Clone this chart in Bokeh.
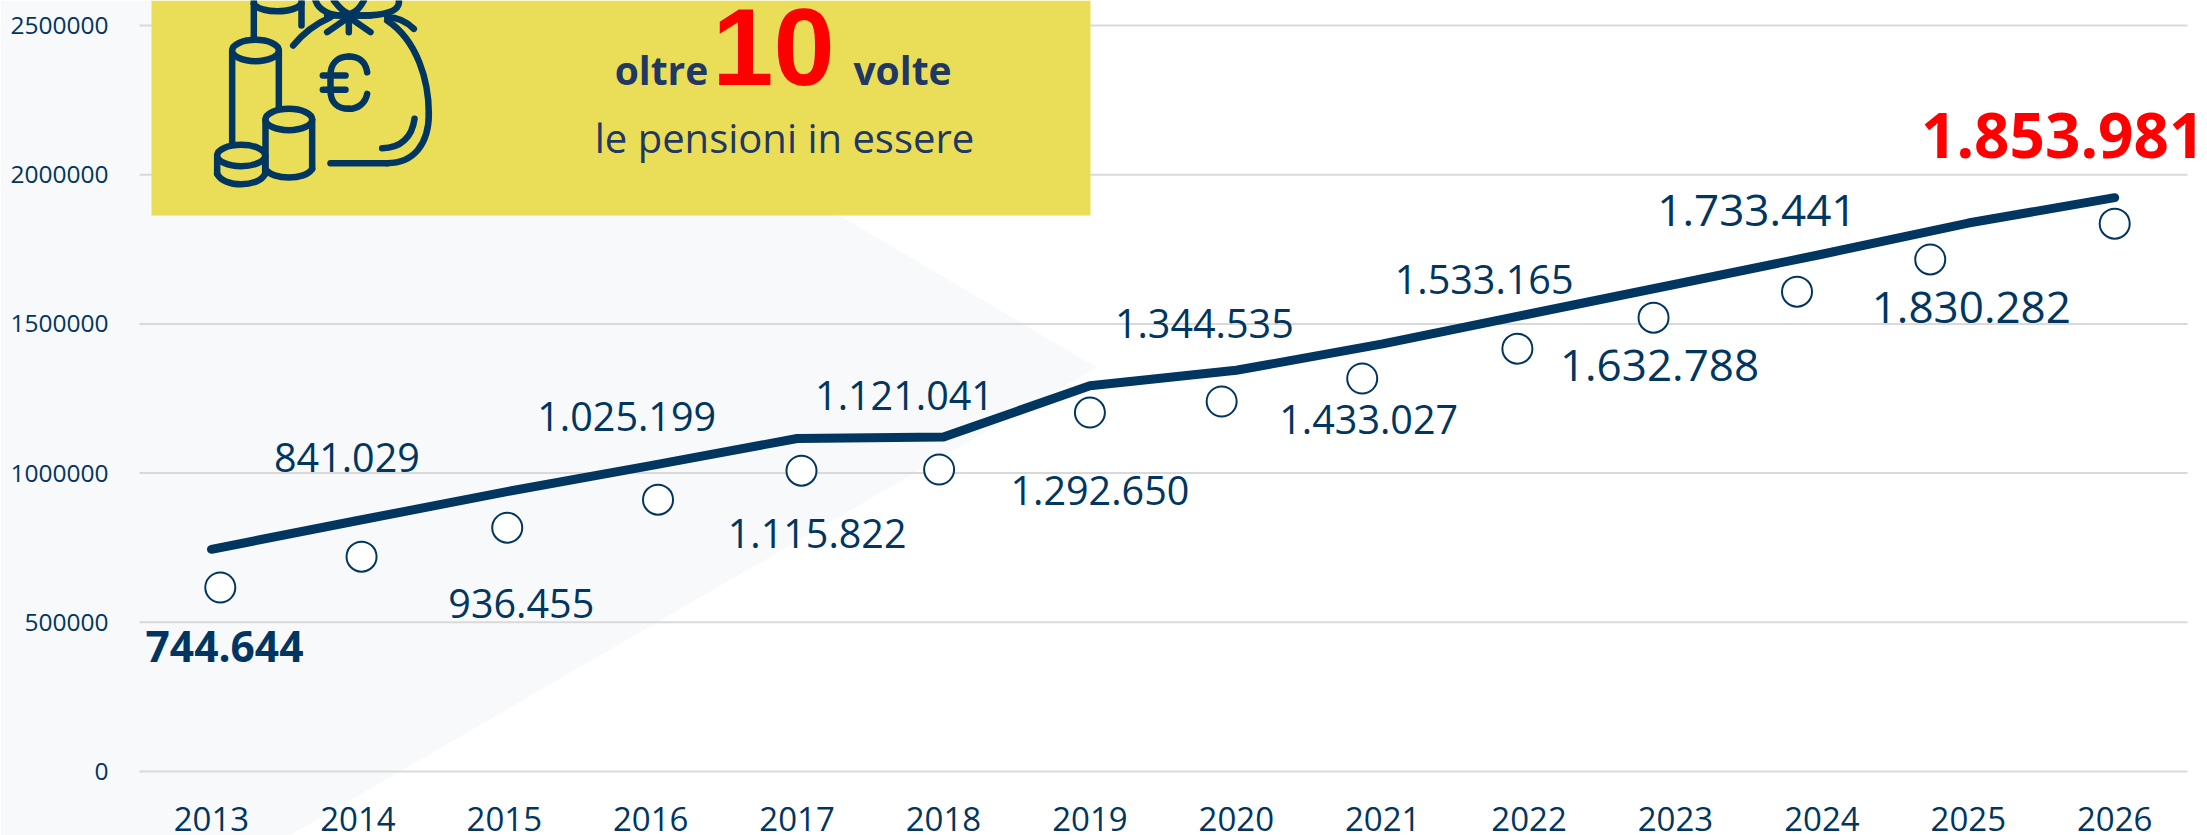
from bokeh.embed import file_html
from bokeh.resources import INLINE
from bokeh.plotting import figure
from bokeh.models import Range1d, LinearAxis, FixedTicker, ColumnDataSource
from bokeh.core.properties import value

# ---- data
years = list(range(2013, 2027))
line_values = [744644, 841029, 936455, 1025199, 1115822, 1121041, 1292650,
               1344535, 1433027, 1533165, 1632788, 1733441, 1838000, 1923000]
label_values = [744644, 841029, 936455, 1025199, 1115822, 1121041, 1292650,
                1344535, 1433027, 1533165, 1632788, 1733441, 1830282, 1853981]
marker_years = [2013.06, 2014.025, 2015.02, 2016.05, 2017.03, 2017.97, 2019.0,
                2019.9, 2020.86, 2021.92, 2022.85, 2023.83, 2024.74, 2026.0]
marker_values = [616600, 720000, 817000, 911000, 1008000, 1012000, 1203000,
                 1240000, 1317000, 1417000, 1521000, 1608000, 1716000, 1836000]
y_ticks = [0, 500000, 1000000, 1500000, 2000000, 2500000]

# ---- layout
W, H = 2207, 835
X0, DX = 211.0, 146.4      # page px of 2013, px per year
Y0, DY = 771.0, 149.2 / 500000
def yr(px): return 2013 + (px - X0) / DX
def val(py): return (Y0 - py) / DY

NAVY = "#003660"
INK = "#1f3864"
YEL = "#eade58"
FONT = "Open Sans"

p = figure(width=W, height=H, output_backend="svg", toolbar_location=None,
           x_range=Range1d(yr(0), yr(W)), y_range=Range1d(val(H), val(0)),
           x_axis_location=None, y_axis_location=None, min_border=0,
           outline_line_color=None, background_fill_color="white", border_fill_color="white")
p.grid.visible = False
p.extra_x_ranges["page"] = Range1d(0, W)
p.extra_y_ranges["page"] = Range1d(H, 0)
pg = dict(x_range_name="page", y_range_name="page")

# pale background shape
p.patch([0, 476, 1096, 289, 0], [0, 0, 367, 835, 835], fill_color="#f7f9fb", line_color=None, **pg)

# gridlines
p.segment(x0=[yr(139)] * len(y_ticks), x1=[yr(2187)] * len(y_ticks), y0=y_ticks, y1=y_ticks,
          line_color="#d9d9d9", line_width=2)

# yellow box
p.quad(left=[151], right=[1090], top=[0], bottom=[215], fill_color=YEL, line_color=None, **pg)

# icon: units are a 3x zoom of the region starting at page (190, 0)
def ix(v): return 190 + v / 3
def iy(v): return v / 3
ICON_W = 6.5
def stroke(xs, ys):
    p.line([ix(v) for v in xs], [iy(v) for v in ys], line_color=NAVY, line_width=ICON_W,
           line_cap="round", line_join="round", **pg)
def curve(a, c0, c1, b):
    p.bezier(x0=[ix(a[0])], y0=[iy(a[1])], x1=[ix(b[0])], y1=[iy(b[1])],
             cx0=[ix(c0[0])], cy0=[iy(c0[1])], cx1=[ix(c1[0])], cy1=[iy(c1[1])],
             line_color=NAVY, line_width=ICON_W, line_cap="round", **pg)
def ell(cx, cy, rx, ry):
    p.ellipse(x=[ix(cx)], y=[iy(cy)], width=[2 * rx / 3], height=[2 * ry / 3], fill_color=YEL,
              line_color=NAVY, line_width=ICON_W, **pg)

# rear coin
stroke([190, 190], [0, 115]); stroke([333, 333], [0, 75])
curve((190, 10), (210, 40), (310, 40), (333, 10))
# tall coin
stroke([125, 125], [150, 430]); stroke([265, 265], [150, 330])
ell(195, 150, 70, 32)
# bag
curve((308, 135), (340, 95), (375, 70), (420, 50))
curve((590, 60), (680, 120), (715, 240), (715, 340))
curve((715, 340), (715, 430), (670, 488), (590, 488))
stroke([590, 420], [488, 488])
curve((672, 355), (665, 410), (630, 443), (575, 443))
# neck
stroke([475, 475], [45, 95]); stroke([475, 410], [50, 95]); stroke([475, 540], [50, 95])
stroke([410, 540], [45, 45])
curve((375, 0), (385, 30), (420, 48), (470, 45))
curve((430, 0), (445, 20), (460, 35), (475, 40))
curve((520, 0), (510, 20), (495, 35), (480, 40))
curve((625, 0), (630, 30), (590, 48), (490, 45))
curve((590, 50), (620, 50), (650, 65), (670, 85))
# euro
curve((530, 215), (525, 180), (500, 168), (475, 168))
curve((475, 168), (440, 168), (420, 190), (420, 225))
stroke([420, 420], [225, 270])
curve((420, 270), (420, 305), (440, 325), (475, 325))
curve((475, 325), (500, 325), (525, 310), (530, 280))
stroke([397, 465], [225, 225]); stroke([397, 465], [268, 268])
# short coin
stroke([225, 225], [357, 505]); stroke([365, 365], [357, 505])
curve((225, 505), (245, 540), (345, 540), (365, 505))
ell(295, 357, 70, 32)
# flat coin
p.quad(left=[ix(80)], right=[ix(225)], top=[iy(465)], bottom=[iy(525)], fill_color=YEL, line_color=None, **pg)
stroke([80, 80], [465, 520]); stroke([224, 224], [465, 520])
curve((80, 520), (100, 562), (204, 562), (224, 520))
ell(152, 465, 72, 32)

# box text
def box_text(x, y, s, size, color, style="normal", font=FONT, align="center"):
    p.text(x=[x], y=[y], text=[s], text_font=value(font), text_font_size=f"{size}px",
           text_font_style=style, text_color=color, text_align=align,
           text_baseline="alphabetic", **pg)
box_text(661, 69, "oltre", 39, INK, "bold")
box_text(773, 46, "10", 110, "#ff0000", "bold", "Liberation Sans")
box_text(902, 69, "volte", 39, INK, "bold")
box_text(784, 137, "le pensioni in essere", 40, INK)

# series
p.line(years, line_values, line_color=NAVY, line_width=9, line_cap="round", line_join="round")
p.scatter(marker_years, marker_values, marker="circle", size=30, fill_color="white",
          line_color=NAVY, line_width=2)

# value labels
fmt = [f"{v:,}".replace(",", ".") for v in label_values]
dx = [13, -11, 17, -24, 20, -39, 10, -32, -14, -45, -16, -65, 3, -52]
dy = [97, -63, 111, -49, 95, -41, 105, -47, 76, -35, 81, -44, 82, -83]
src = ColumnDataSource(dict(x=years, y=label_values, t=fmt, dx=dx, dy=dy))
def labels(idx, size, color, style):
    s = ColumnDataSource({k: [v[i] for i in idx] for k, v in src.data.items()})
    p.text(x="x", y="y", text="t", x_offset="dx", y_offset="dy", source=s, text_font=value(FONT),
           text_font_size=f"{size}px", text_font_style=style, text_color=color,
           text_align="center", text_baseline="middle")
labels(list(range(1, 10)), 39.5, NAVY, "normal")
labels([10, 11, 12], 44, NAVY, "normal")
labels([0], 42.5, NAVY, "bold")
labels([13], 62, "#ff0000", "bold")

# axes, placed inside the full-page frame
ya = LinearAxis(ticker=FixedTicker(ticks=y_ticks), fixed_location=yr(114),
                major_tick_line_color=None, minor_tick_line_color=None, axis_line_color=None,
                major_label_text_color=NAVY, major_label_text_font=FONT,
                major_label_text_font_size="24.5px", major_label_standoff=0,
                major_label_overrides={v: str(v) for v in y_ticks})
xa = LinearAxis(ticker=FixedTicker(ticks=years), fixed_location=val(800),
                major_tick_line_color=None, minor_tick_line_color=None, axis_line_color=None,
                major_label_text_color=NAVY, major_label_text_font=FONT,
                major_label_text_font_size="33px", major_label_standoff=0,
                major_label_overrides={v: str(v) for v in years})
p.add_layout(ya, "left")
p.add_layout(xa, "below")

open("out.html", "w").write(file_html(p, INLINE))
